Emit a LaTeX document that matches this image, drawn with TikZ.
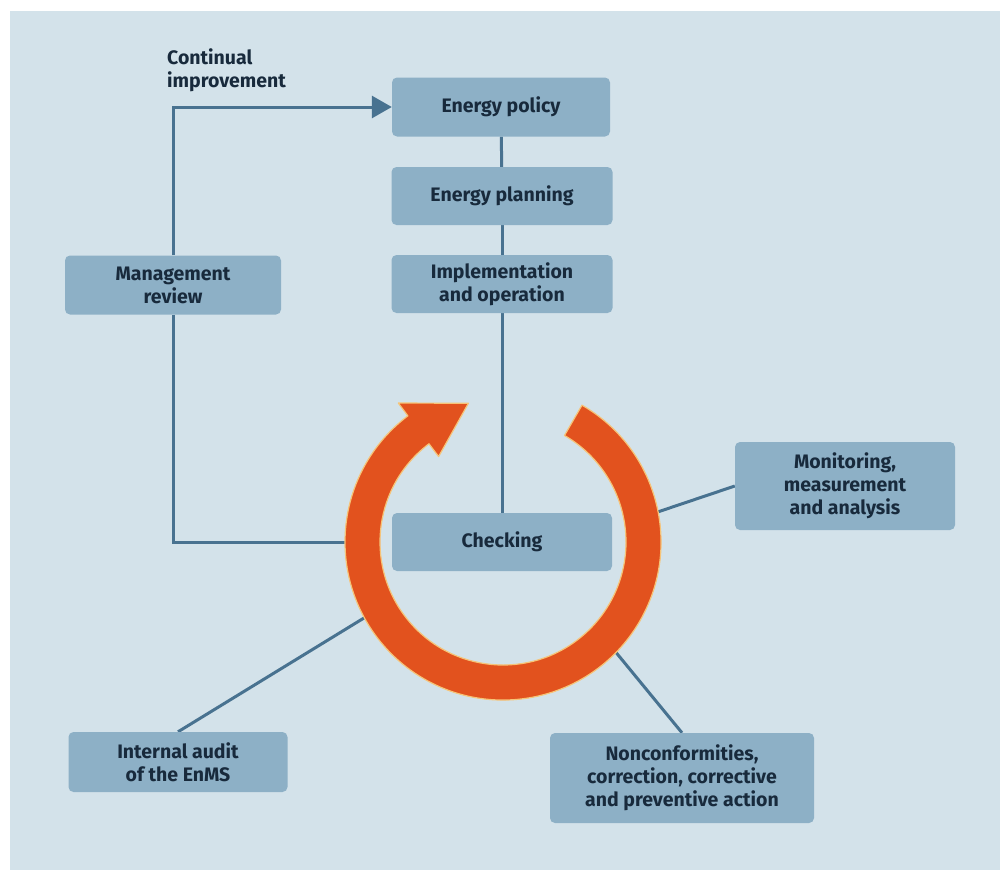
\documentclass[tikz,border=0pt]{standalone}
\usepackage{fontspec}
\setmainfont{Fira Sans}
\newfontfamily\lblfont{Fira Sans}
\usetikzlibrary{arrows.meta}
\definecolor{bgc}{RGB}{211,226,234}
\definecolor{boxc}{RGB}{141,176,198}
\definecolor{txtc}{RGB}{24,42,60}
\definecolor{linec}{RGB}{72,114,144}
\definecolor{ringc}{RGB}{226,82,30}
\definecolor{ringedge}{RGB}{246,196,120}
\pgfdeclarelayer{bg}
\pgfdeclarelayer{lines}
\pgfsetlayers{bg,lines,main}
\begin{document}
\begin{tikzpicture}[x=1pt,y=-1pt,
  lbl/.style={text=txtc, font=\lblfont\bfseries\fontsize{19.5}{23}\selectfont, align=center, inner sep=0pt},
  box/.style={lbl, fill=boxc, rounded corners=5pt},
  conn/.style={draw=linec, line width=3pt}]
\useasboundingbox (0,0) rectangle (1000,870);
\begin{pgfonlayer}{bg}
  \fill[white] (0,0) rectangle (1000,870);
  \fill[bgc] (10,11) rectangle (1000,870);
\end{pgfonlayer}

\node[box, minimum width=218pt, minimum height=59pt] (policy) at (501,107) {Energy policy};
\node[box, minimum width=221pt, minimum height=58pt] (planning) at (502,196) {Energy planning};
\node[box, minimum width=221pt, minimum height=58pt] (impl) at (502,284) {Implementation\\and operation};
\node[box, minimum width=216pt, minimum height=59pt] (mgmt) at (173,285) {Management\\review};
\node[box, minimum width=220pt, minimum height=58pt] (checking) at (502,542) {Checking};
\node[box, minimum width=220pt, minimum height=88pt] (monitor) at (845,486) {Monitoring,\\measurement\\and analysis};
\node[box, minimum width=219pt, minimum height=60pt] (audit) at (178,762) {Internal audit\\of the EnMS};
\node[box, minimum width=264pt, minimum height=90pt] (noncon) at (682,778) {Nonconformities,\\correction, corrective\\and preventive action};
\node[lbl, align=left, anchor=north west] (ci) at (167,48) {Continual\\improvement};

% ring
\begin{scope}[shift={(503,542)}, y=1pt]
  \coordinate (ringW) at (180:150);
  \coordinate (ringMon) at (10.6:150);
  \coordinate (ringAud) at (208.5:150);
  \coordinate (ringNon) at (-44:150);
  \filldraw[fill=ringc, draw=ringedge, line width=1.2pt, line join=round]
    (60:158) arc[start angle=60, end angle=-233, radius=158]
    -- (127:174) -- (104:143) -- (127:107) -- (127:123)
    arc[start angle=-233, end angle=60, radius=123] -- cycle;
\end{scope}

\begin{pgfonlayer}{lines}
  \draw[conn] (policy) -- (planning);
  \draw[conn] (planning) -- (impl);
  \draw[conn] (impl) -- (checking);
  \draw[conn, -{Triangle[length=20pt,width=22pt]}] (mgmt.north) |- (policy.west);
  \draw[conn] (mgmt.south) |- (ringW);
  \draw[conn] (monitor.west) -- (ringMon);
  \draw[conn] (audit.north) -- (ringAud);
  \draw[conn] (noncon.north) -- (ringNon);
\end{pgfonlayer}
\end{tikzpicture}
\end{document}
